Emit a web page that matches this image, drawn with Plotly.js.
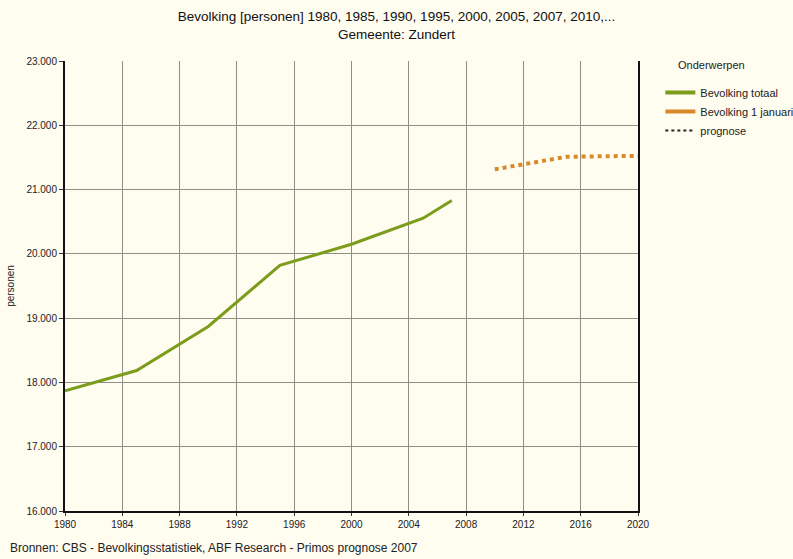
<!DOCTYPE html>
<html>
<head>
<meta charset="utf-8">
<script src="https://cdn.plot.ly/plotly-3.0.1.min.js"></script>
<style>
  html, body { margin: 0; padding: 0; background: #fffcf0; }
  #chart { width: 793px; height: 559px; }
</style>
</head>
<body>
<div id="chart"></div>
<script>
  // Bevolking Zundert
  const yearsTotaal = [1980, 1985, 1990, 1995, 2000, 2005, 2007];
  const bevolkingTotaal = [17870, 18185, 18870, 19820, 20150, 20555, 20830];

  const yearsPrognose = [2010, 2015, 2020];
  const bevolkingPrognose = [21315, 21510, 21525];

  const xTicks = [1980, 1984, 1988, 1992, 1996, 2000, 2004, 2008, 2012, 2016, 2020];

  const green = "#7c9c1c";
  const orange = "#d88a2a";
  const font = "Liberation Sans, Arial, sans-serif";

  const data = [
    {
      type: "scatter", mode: "lines",
      x: yearsTotaal, y: bevolkingTotaal,
      line: { color: green, width: 3 },
      showlegend: false, hoverinfo: "x+y"
    },
    {
      type: "scatter", mode: "lines",
      x: yearsPrognose, y: bevolkingPrognose,
      line: { color: orange, width: 4, dash: "dot" },
      showlegend: false, hoverinfo: "x+y"
    },
    // legend-only entries
    { type: "scatter", mode: "lines", x: [null], y: [null], name: "Bevolking totaal",
      line: { color: green, width: 4 } },
    { type: "scatter", mode: "lines", x: [null], y: [null], name: "Bevolking 1 januari",
      line: { color: orange, width: 4 } },
    { type: "scatter", mode: "lines", x: [null], y: [null], name: "prognose",
      line: { color: "#222", width: 2, dash: "dot" } }
  ];

  const layout = {
    width: 793, height: 559,
    paper_bgcolor: "#fffcf0",
    plot_bgcolor: "#fffcf0",
    font: { family: font, size: 11, color: "#222" },
    separators: ",.",
    margin: { l: 65, r: 155, t: 61, b: 48, autoexpand: false },
    title: {
      text: "Bevolking [personen] 1980, 1985, 1990, 1995, 2000, 2005, 2007, 2010,...<br>Gemeente: Zundert",
      font: { family: font, size: 13.5, color: "#111" },
      x: 0.5, xref: "container", xanchor: "center",
      yref: "container", y: 0.962, yanchor: "top"
    },
    xaxis: {
      range: [1980, 2020],
      tickvals: xTicks,
      ticks: "outside", ticklen: 3, tickcolor: "#333",
      showgrid: true, gridcolor: "#8f8f86", gridwidth: 1,
      showline: true, linecolor: "#111", linewidth: 2,
      zeroline: false,
      tickfont: { size: 10, family: font }
    },
    yaxis: {
      range: [16000, 23000],
      dtick: 1000,
      tickformat: ",d",
      ticks: "outside", ticklen: 4, tickcolor: "#333",
      showgrid: true, gridcolor: "#8f8f86", gridwidth: 1,
      showline: true, mirror: true, linecolor: "#111", linewidth: 2,
      zeroline: false,
      tickfont: { size: 10, family: font },
      title: { text: "personen", font: { size: 10, family: font }, standoff: 10 }
    },
    showlegend: true,
    legend: {
      x: 1.039, xanchor: "left",
      y: 0.962, yanchor: "top",
      bgcolor: "rgba(0,0,0,0)",
      font: { size: 11, family: font },
      itemwidth: 30,
      tracegroupgap: 0
    },
    annotations: [
      {
        xref: "paper", yref: "paper",
        x: -0.1, y: -0.082,
        xanchor: "left", yanchor: "middle",
        text: "Bronnen: CBS - Bevolkingsstatistiek, ABF Research - Primos prognose 2007",
        showarrow: false,
        font: { size: 12, family: font, color: "#222" }
      },
      {
        xref: "paper", yref: "paper",
        x: (676 - 65) / 573, y: 1 - (65 - 61) / 450,
        xanchor: "left", yanchor: "middle",
        text: "Onderwerpen",
        showarrow: false,
        font: { size: 11, family: font, color: "#222" }
      }
    ]
  };

  Plotly.newPlot("chart", data, layout, { displayModeBar: false, staticPlot: true });
</script>
</body>
</html>
